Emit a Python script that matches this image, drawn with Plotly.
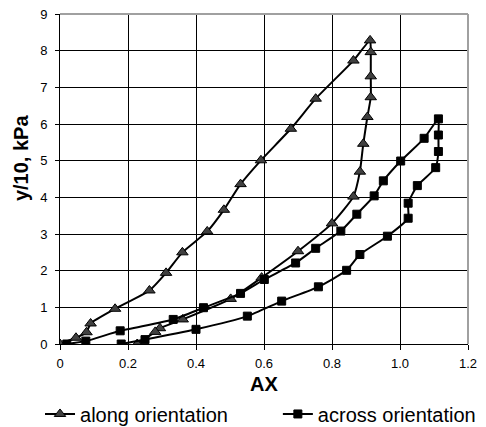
import plotly.graph_objects as go

# along orientation (loading then unloading)
along_x = [0.0, 0.047, 0.078, 0.09, 0.162, 0.263, 0.312, 0.36, 0.433, 0.482, 0.531, 0.591,
           0.679, 0.752, 0.863, 0.912, 0.914, 0.914, 0.914, 0.904, 0.892, 0.882, 0.863,
           0.80, 0.70, 0.593, 0.502, 0.361, 0.294, 0.28, 0.227]
along_y = [0.0, 0.17, 0.32, 0.56, 0.96, 1.46, 1.94, 2.5, 3.07, 3.66, 4.36, 5.01,
           5.87, 6.69, 7.73, 8.28, 7.96, 7.3, 6.73, 6.19, 5.46, 4.70, 4.02,
           3.29, 2.53, 1.81, 1.23, 0.67, 0.43, 0.33, 0.0]

# across orientation (loading then unloading)
across_x = [0.02, 0.076, 0.177, 0.333, 0.422, 0.531, 0.601, 0.693, 0.752, 0.826, 0.873,
            0.924, 0.951, 1.002, 1.071, 1.113, 1.113, 1.113, 1.105, 1.051, 1.024, 1.024,
            0.963, 0.882, 0.843, 0.76, 0.652, 0.551, 0.40, 0.25, 0.18]
across_y = [0.0, 0.08, 0.36, 0.67, 0.99, 1.38, 1.76, 2.21, 2.61, 3.08, 3.54,
            4.04, 4.45, 4.99, 5.61, 6.14, 5.70, 5.25, 4.81, 4.32, 3.84, 3.43,
            2.94, 2.44, 2.01, 1.56, 1.17, 0.76, 0.40, 0.12, 0.0]

x_ticks = [0, 0.2, 0.4, 0.6, 0.8, 1.0, 1.2]
x_tick_labels = ["0", "0.2", "0.4", "0.6", "0.8", "1.0", "1.2"]
y_ticks = [0, 1, 2, 3, 4, 5, 6, 7, 8, 9]

FONT = "Liberation Sans, Arial, sans-serif"

fig = go.Figure()
fig.add_trace(go.Scatter(
    x=along_x, y=along_y, mode="lines+markers", name="along orientation",
    line=dict(color="black", width=2, shape="spline", smoothing=0.5),
    marker=dict(symbol="triangle-up", size=10, color="#404040",
                line=dict(color="black", width=1)),
    legend="legend",
))
fig.add_trace(go.Scatter(
    x=across_x, y=across_y, mode="lines+markers", name="across orientation",
    line=dict(color="black", width=2, shape="spline", smoothing=0.5),
    marker=dict(symbol="square", size=8, color="black",
                line=dict(color="black", width=1)),
    legend="legend2",
))

legend_common = dict(orientation="h", y=-0.212, xanchor="left", yanchor="middle",
                     font=dict(size=20, family=FONT, color="black"),
                     bgcolor="rgba(0,0,0,0)", borderwidth=0)

fig.update_layout(
    width=478, height=419,
    margin=dict(l=52, r=18, t=6, b=83, autoexpand=False),
    paper_bgcolor="white", plot_bgcolor="white",
    font=dict(family=FONT, color="black", size=13),
    showlegend=True,
    legend=dict(x=-0.049, **legend_common),
    legend2=dict(x=0.534, **legend_common),
    xaxis=dict(range=[0, 1.2], tickvals=x_ticks, ticktext=x_tick_labels,
               showgrid=True, gridcolor="black", gridwidth=1,
               showline=True, linecolor="black", linewidth=1,
               ticks="outside", ticklen=5, tickcolor="black", automargin=False,
               ticklabelstandoff=2, ticklabeloverflow="allow",
               zeroline=False, tickfont=dict(size=13),
               title=dict(text="<b>AX</b>", font=dict(size=20), standoff=7)),
    yaxis=dict(range=[0, 9], tickvals=y_ticks,
               showgrid=True, gridcolor="black", gridwidth=1,
               showline=True, linecolor="black", linewidth=1,
               ticks="outside", ticklen=4, tickcolor="black", automargin=False,
               ticklabelstandoff=5, ticklabeloverflow="allow",
               zeroline=False, tickfont=dict(size=13)),
    annotations=[dict(text="<b>y/10, kPa</b>", xref="paper", yref="paper",
                      x=-0.095, y=0.564, textangle=-90, showarrow=False,
                      font=dict(size=20), xanchor="center", yanchor="middle")],
    shapes=[
        dict(type="line", xref="paper", yref="paper", x0=0, x1=1, y0=1, y1=1,
             line=dict(color="#a0a0a0", width=2), layer="above"),
        dict(type="line", xref="paper", yref="paper", x0=1, x1=1, y0=0, y1=1,
             line=dict(color="#a0a0a0", width=2), layer="above"),
    ],
)

fig.write_html("out.html")
